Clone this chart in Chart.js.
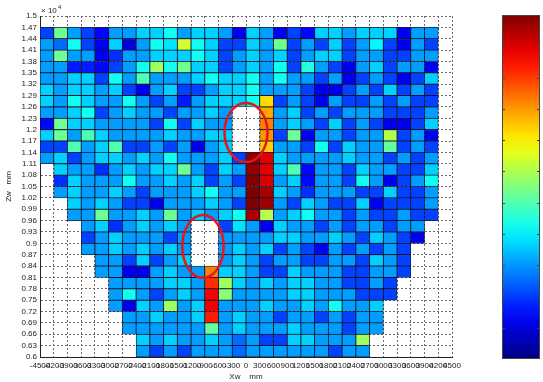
<!DOCTYPE html>
<html>
<head>
<meta charset="utf-8">
<script src="https://cdn.jsdelivr.net/npm/chart.js@4.4.1/dist/chart.umd.min.js"></script>
<style>
  body { margin: 0; background: #fff; }
</style>
</head>
<body>
<canvas id="heatChart" width="543" height="382"></canvas>
<script>
// cell edges: Xw in mm, Zw in units of 10^4 mm
const xEdges = [-4500, -4200, -3900, -3600, -3300, -3000, -2700, -2400, -2100, -1800, -1500, -1200, -900, -600, -300,
  0, 300, 600, 900, 1200, 1500, 1800, 2100, 2400, 2700, 3000, 3300, 3600, 3900, 4200, 4500];
const zEdges = [1.5, 1.47, 1.44, 1.41, 1.38, 1.35, 1.32, 1.29, 1.26, 1.23, 1.2, 1.17, 1.14, 1.11, 1.08, 1.05,
  1.02, 0.99, 0.96, 0.93, 0.9, 0.87, 0.84, 0.81, 0.78, 0.75, 0.72, 0.69, 0.66, 0.63, 0.6];

// cell values (0-100), first row = 1.47..1.44, null = no data
const zValues = [
  [16,45,25,16,10,25,25,30,30,36,25,30,30,25,8,30,25,8,16,10,30,30,25,30,30,30,8,25,25],
  [25,20,36,16,8,30,6,25,36,32,55,36,30,16,16,30,25,45,16,25,16,30,16,25,34,16,8,25,16],
  [25,45,25,25,8,14,25,25,30,30,30,36,30,16,25,30,25,30,16,25,30,30,16,25,25,16,16,25,25],
  [25,25,12,12,10,16,25,36,50,36,45,30,30,16,25,30,25,36,16,38,25,16,8,25,30,16,25,25,8],
  [25,25,30,30,16,36,25,42,25,25,25,30,36,30,30,36,25,36,25,25,16,25,8,16,25,16,8,16,30],
  [30,25,30,30,25,30,16,8,25,30,16,16,25,30,30,36,25,25,25,16,8,8,16,25,16,30,16,25,16],
  [30,25,36,30,25,25,36,25,16,25,12,25,30,30,30,36,63,16,25,16,8,25,16,16,25,16,25,16,16],
  [25,25,30,36,16,25,30,25,25,16,25,25,30,25,null,null,68,25,30,16,25,16,25,25,25,16,16,16,25],
  [10,45,30,30,25,25,25,25,16,36,16,30,25,25,null,null,72,25,30,25,16,30,16,25,16,8,8,16,30],
  [30,45,25,42,30,25,25,25,25,30,25,25,30,30,null,null,70,16,45,8,25,25,16,25,25,52,16,25,8],
  [16,16,42,25,30,42,16,16,25,16,25,8,25,30,null,null,64,25,25,16,36,16,30,25,25,44,16,25,16],
  [25,30,16,25,30,30,25,30,25,36,25,25,25,30,16,95,87,30,25,25,25,25,30,25,25,16,25,16,25],
  [null,30,25,25,14,25,30,25,30,30,45,25,16,30,25,95,87,30,42,10,25,25,16,30,25,25,16,16,30],
  [null,14,30,25,25,25,36,25,25,30,25,30,16,25,16,98,88,25,30,10,25,25,16,36,25,8,16,25,36],
  [null,25,30,25,25,30,25,16,25,25,25,30,36,25,25,98,93,30,25,14,25,25,25,16,16,30,16,16,25],
  [null,null,30,25,30,25,16,16,8,25,25,25,30,25,16,97,94,25,16,30,25,16,16,30,8,16,16,16,25],
  [null,null,25,25,45,25,25,30,25,45,25,30,25,30,36,93,52,25,30,36,25,25,16,25,16,16,25,16,16],
  [null,null,null,25,30,14,25,30,25,30,25,null,null,16,32,25,8,30,25,25,16,25,16,25,25,16,25,25,null],
  [null,null,null,16,25,30,25,25,25,16,25,null,null,25,25,25,25,30,30,25,25,30,25,16,30,25,16,8,null],
  [null,null,null,25,25,30,25,30,25,30,25,null,null,25,30,25,30,16,25,16,8,25,16,25,16,25,16,null,null],
  [null,null,null,null,25,25,16,30,16,25,30,null,null,25,30,25,16,25,25,16,16,25,25,16,30,25,16,null,null],
  [null,null,null,null,25,25,8,8,25,30,25,25,72,30,30,25,16,16,30,25,25,25,16,16,25,25,16,null,null],
  [null,null,null,null,null,25,25,25,25,30,30,25,80,50,30,25,30,25,30,30,25,25,16,16,25,16,null,null,null],
  [null,null,null,null,null,25,36,25,16,25,30,25,85,48,25,25,25,25,30,30,25,25,25,16,16,16,null,null,null],
  [null,null,null,null,null,25,8,30,25,50,25,30,86,25,25,25,30,25,25,30,25,36,25,25,30,null,null,null,null],
  [null,null,null,null,null,null,25,25,30,25,25,30,82,25,30,25,25,16,25,25,16,25,16,25,25,null,null,null,null],
  [null,null,null,null,null,null,25,25,25,25,25,25,44,25,30,25,25,25,30,25,25,25,16,25,25,null,null,null,null],
  [null,null,null,null,null,null,null,30,25,30,25,25,30,25,20,25,16,16,30,30,25,25,25,50,null,null,null,null,null],
  [null,null,null,null,null,null,null,25,16,25,16,25,25,25,20,25,25,25,25,25,25,16,25,25,null,null,null,null,null]
];

// colour range of the map
const colorMin = -3;
const colorMax = 97;

// red ellipses drawn over the map (centre and radii in axis units)
const ellipses = [
  { x: 0, z: 1.1925, rx: 470, rz: 0.078 },
  { x: -940, z: 0.892, rx: 452, rz: 0.083 }
];
const colorbarSteps = 11;

function jet(t) {
  t = Math.min(1, Math.max(0, t));
  const c = v => Math.round(255 * Math.min(1, Math.max(0, v)));
  const r = c(1.5 - Math.abs(4 * t - 3));
  const g = c(1.5 - Math.abs(4 * t - 2));
  const b = c(1.5 - Math.abs(4 * t - 1));
  return `rgb(${r},${g},${b})`;
}

const cells = [];
const cellColors = [];
zValues.forEach((row, j) => row.forEach((v, i) => {
  if (v === null) return;
  cells.push({ x: (xEdges[i] + xEdges[i + 1]) / 2, y: [zEdges[j + 2], zEdges[j + 1]] });
  cellColors.push(jet((v - colorMin) / (colorMax - colorMin)));
}));

const extras = {
  id: 'extras',
  afterDatasetsDraw(chart) {
    const { ctx, scales: { x, y } } = chart;
    ctx.save();
    ctx.strokeStyle = '#e8141c';
    ctx.lineWidth = 2.5;
    ellipses.forEach(e => {
      const cx = x.getPixelForValue(e.x), cy = y.getPixelForValue(e.z);
      const rx = Math.abs(x.getPixelForValue(e.x + e.rx) - cx);
      const ry = Math.abs(y.getPixelForValue(e.z + e.rz) - cy);
      ctx.beginPath();
      ctx.ellipse(cx, cy, rx, ry, 0, 0, Math.PI * 2);
      ctx.stroke();
    });
    ctx.restore();
  },
  afterDraw(chart) {
    const { ctx, chartArea: a } = chart;
    ctx.save();
    // exponent label
    ctx.fillStyle = '#222';
    ctx.font = '8px "Liberation Sans", Arial, sans-serif';
    ctx.textBaseline = 'alphabetic';
    ctx.fillText('\u00d7 10', a.left + 1, a.top - 3);
    ctx.font = '6px "Liberation Sans", Arial, sans-serif';
    ctx.fillText('4', a.left + 18, a.top - 7);

    // colorbar
    const left = a.right + 50, width = 38, top = a.top - 1, bottom = a.bottom + 2;
    const grad = ctx.createLinearGradient(0, bottom, 0, top);
    for (let k = 0; k <= 20; k++) grad.addColorStop(k / 20, jet(k / 20));
    ctx.fillStyle = grad;
    ctx.fillRect(left, top, width, bottom - top);
    ctx.strokeStyle = '#444';
    ctx.lineWidth = 1;
    ctx.strokeRect(left + 0.5, top + 0.5, width - 1, bottom - top - 1);
    ctx.beginPath();
    for (let k = 1; k < colorbarSteps; k++) {
      const ty = Math.round(bottom - (bottom - top) * k / colorbarSteps) + 0.5;
      ctx.moveTo(left, ty); ctx.lineTo(left + 3, ty);
      ctx.moveTo(left + width - 3, ty); ctx.lineTo(left + width, ty);
    }
    ctx.stroke();
    ctx.restore();
  }
};

Chart.defaults.font.family = '"Liberation Sans", Arial, sans-serif';
Chart.defaults.font.size = 8;
Chart.defaults.color = '#222';

const gridStyle = { color: '#6a6a6a', lineWidth: 1, drawTicks: false, offset: false };

new Chart(document.getElementById('heatChart').getContext('2d'), {
  type: 'bar',
  data: {
    datasets: [{
      data: cells,
      backgroundColor: cellColors,
      borderColor: 'rgba(10,10,35,0.9)',
      borderWidth: 0.8,
      borderSkipped: false,
      barPercentage: 1,
      categoryPercentage: 1
    }]
  },
  options: {
    responsive: false,
    animation: false,
    devicePixelRatio: 1,
    layout: { padding: { top: 16, right: 91, left: 0, bottom: 0 } },
    plugins: { legend: { display: false }, tooltip: { enabled: false } },
    scales: {
      x: {
        type: 'linear',
        min: -4500, max: 4500,
        offset: false,
        grid: gridStyle,
        border: { display: true, color: '#222', width: 1, dash: [2, 2] },
        afterBuildTicks: s => { s.ticks = xEdges.map(v => ({ value: v })); },
        afterFit: s => { s.height = 25; },
        ticks: { autoSkip: false, maxRotation: 0, minRotation: 0, padding: 4, callback: v => String(v) },
        title: { display: true, text: 'Xw    mm', padding: 0 }
      },
      y: {
        min: 0.6, max: 1.5,
        beginAtZero: false,
        grid: gridStyle,
        border: { display: true, color: '#222', width: 1, dash: [2, 2] },
        afterBuildTicks: s => { s.ticks = zEdges.slice().reverse().map(v => ({ value: v })); },
        afterFit: s => { s.width = 40; },
        ticks: { autoSkip: false, padding: 3, callback: v => String(Number(v.toFixed(2))) },
        title: { display: true, text: 'Zw   mm', padding: 4 }
      }
    }
  },
  plugins: [extras]
});
</script>
</body>
</html>
